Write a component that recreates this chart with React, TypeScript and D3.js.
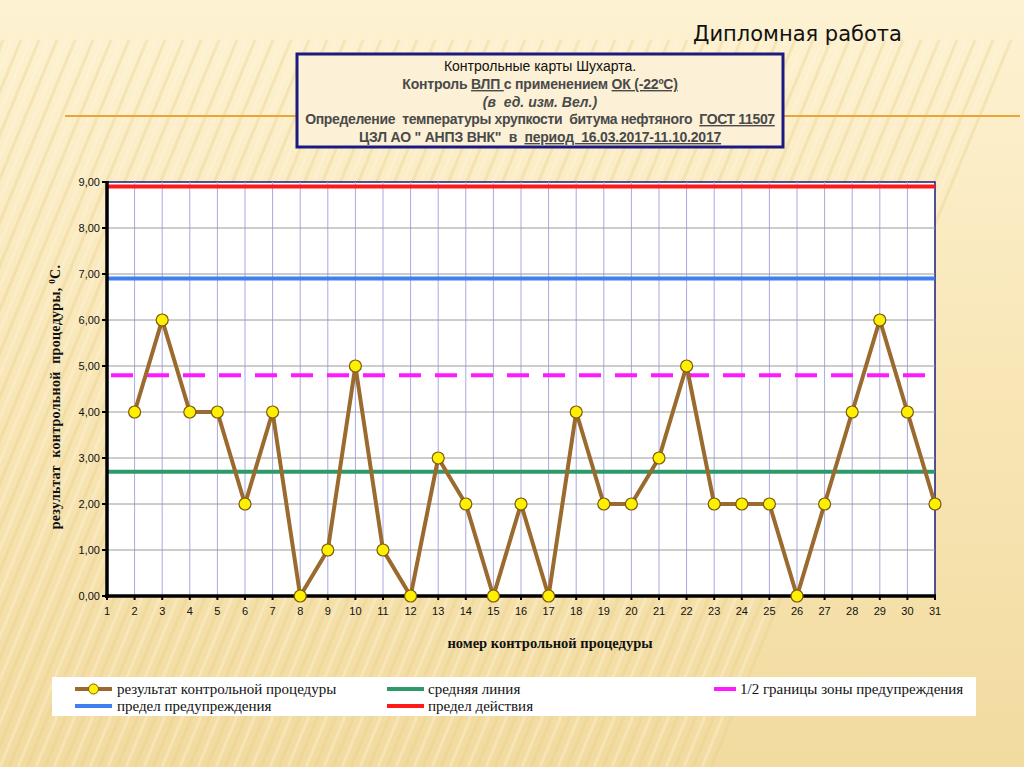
import * as d3 from "d3";

// control chart data (Shewhart)
const procedureNumbers = [
  1, 2, 3, 4, 5, 6, 7, 8, 9, 10, 11, 12, 13, 14, 15, 16, 17, 18, 19, 20, 21, 22, 23, 24, 25, 26,
  27, 28, 29, 30, 31,
];
const results: (number | null)[] = [
  null, 4, 6, 4, 4, 2, 4, 0, 1, 5, 1, 0, 3, 2, 0, 2, 0, 4, 2, 2, 3, 5, 2, 2, 2, 0, 2, 4, 6, 4, 2,
];
const yTicks = [0, 1, 2, 3, 4, 5, 6, 7, 8, 9];
const centerLine = 2.7;
const halfWarning = 4.8;
const warningLimit = 6.9;
const actionLimit = 8.9;

const W = 1024;
const H = 767;
const PLOT = { left: 107, right: 935, top: 182, bottom: 596 };

const BROWN = "#9a6a2e";
const GREEN = "#2e9a6a";
const MAGENTA = "#ff19ff";
const BLUE = "#3f7ff0";
const RED = "#ff1a1a";

export default function App() {
  const x = d3.scaleLinear().domain([1, 31]).range([PLOT.left, PLOT.right]);
  const y = d3.scaleLinear().domain([0, 9]).range([PLOT.bottom, PLOT.top]);
  const fmt = (v: number) => v.toFixed(2).replace(".", ",");

  const pts = procedureNumbers
    .map((n, i) => ({ n, v: results[i] }))
    .filter((d) => d.v !== null) as { n: number; v: number }[];

  const line = d3
    .line<{ n: number; v: number }>()
    .x((d) => x(d.n))
    .y((d) => y(d.v));

  const sans = "'Liberation Sans', Arial, sans-serif";
  const serif = "'Liberation Serif', 'Times New Roman', serif";

  const stripes = d3.range(-40, 80).map((i) => i * 9);

  const legendRows = [
    [
      { x: 75, color: BROWN, label: "результат контрольной процедуры", marker: true, tx: 117 },
      { x: 387, color: GREEN, label: "средняя линия", tx: 428 },
      { x: 714, color: MAGENTA, label: "1/2 границы зоны предупреждения", tx: 740, w: 22 },
    ],
    [
      { x: 75, color: BLUE, label: "предел предупреждения", tx: 117 },
      { x: 387, color: RED, label: "предел действия", tx: 428 },
    ],
  ];

  return (
    <div style={{ position: "fixed", left: 0, top: 0 }}>
      <svg width={W} height={H}>
        <defs>
          <linearGradient id="bg" x1="0" y1="0" x2="0" y2="1">
            <stop offset="0" stopColor="#fdf2d2" />
            <stop offset="0.5" stopColor="#f8e6b6" />
            <stop offset="1" stopColor="#f2dba0" />
          </linearGradient>
          <clipPath id="clipbg">
            <rect x={0} y={0} width={W} height={H} />
          </clipPath>
        </defs>
        <rect width={W} height={H} fill="url(#bg)" />
        <g clipPath="url(#clipbg)" opacity={0.35}>
          {stripes.map((s, i) => (
            <line
              key={i}
              x1={s}
              y1={H}
              x2={s + 300}
              y2={40}
              stroke={i % 2 ? "#e9cf8c" : "#fff6dc"}
              strokeWidth={3}
            />
          ))}
        </g>

        {/* slide header */}
        <text x={693} y={41} fontFamily="'DejaVu Sans', sans-serif" fontSize={21} fill="#111">
          Дипломная работа
        </text>
        <line x1={65} x2={1020} y1={116} y2={116} stroke="#e8a53a" strokeWidth={2} />

        {/* title box */}
        <rect x={297} y={54} width={486} height={93} fill="#fcf1d6" stroke="#1a1a80" strokeWidth={3} />
        <g fontFamily={sans} textAnchor="middle" fontSize={14}>
          <text x={540} y={71} fill="#111">
            Контрольные карты Шухарта.
          </text>
          <text x={540} y={89} fill="#4a4a4a" fontWeight="bold" letterSpacing={-0.2} xmlSpace="preserve">
            {"Контроль "}
            <tspan textDecoration="underline">{"ВЛП "}</tspan>
            {"с применением "}
            <tspan textDecoration="underline">ОК (-22ºС)</tspan>
          </text>
          <text x={540} y={107} fill="#4a4a4a" fontWeight="bold" fontStyle="italic" xmlSpace="preserve">
            {"(в  ед. изм. Вел.)"}
          </text>
          <text x={540} y={124} fill="#4a4a4a" fontWeight="bold" letterSpacing={-0.35} xmlSpace="preserve">
            {"Определение  температуры хрупкости  битума нефтяного  "}
            <tspan textDecoration="underline">ГОСТ 11507</tspan>
          </text>
          <text x={540} y={142} fill="#4a4a4a" fontWeight="bold" letterSpacing={-0.2} xmlSpace="preserve">
            {'ЦЗЛ АО " АНПЗ ВНК"  в  '}
            <tspan textDecoration="underline">{"период  16.03.2017-11.10.2017"}</tspan>
          </text>
        </g>

        {/* plot area */}
        <rect
          x={PLOT.left}
          y={PLOT.top}
          width={PLOT.right - PLOT.left}
          height={PLOT.bottom - PLOT.top}
          fill="#fff"
          stroke="#1a1a80"
          strokeWidth={1.5}
        />
        {procedureNumbers.slice(1, -1).map((n) => (
          <line key={n} x1={x(n)} x2={x(n)} y1={PLOT.top} y2={PLOT.bottom} stroke="#a8a8e0" strokeWidth={1} />
        ))}
        {yTicks.slice(1, -1).map((v) => (
          <line key={v} x1={PLOT.left} x2={PLOT.right} y1={y(v)} y2={y(v)} stroke="#9a9a9a" strokeWidth={1} />
        ))}

        {/* control lines */}
        <line x1={PLOT.left} x2={PLOT.right} y1={y(actionLimit)} y2={y(actionLimit)} stroke={RED} strokeWidth={4} />
        <line x1={PLOT.left} x2={PLOT.right} y1={y(warningLimit)} y2={y(warningLimit)} stroke={BLUE} strokeWidth={4} />
        <line
          x1={PLOT.left}
          x2={PLOT.right}
          y1={y(halfWarning)}
          y2={y(halfWarning)}
          stroke={MAGENTA}
          strokeWidth={4}
          strokeDasharray="22 14"
          strokeDashoffset={-4}
        />
        <line x1={PLOT.left} x2={PLOT.right} y1={y(centerLine)} y2={y(centerLine)} stroke={GREEN} strokeWidth={4} />

        {/* axes */}
        <line x1={PLOT.left} x2={PLOT.left} y1={PLOT.top - 1} y2={PLOT.bottom + 2} stroke="#000" strokeWidth={3.5} />
        <line x1={PLOT.left - 2} x2={PLOT.right + 1} y1={PLOT.bottom} y2={PLOT.bottom} stroke="#000" strokeWidth={3.5} />
        <g fontFamily={sans} fontSize={11} fill="#111">
          {yTicks.map((v) => (
            <g key={v}>
              <line x1={PLOT.left - 5} x2={PLOT.left} y1={y(v)} y2={y(v)} stroke="#000" strokeWidth={2} />
              <text x={PLOT.left - 7} y={y(v)} dy="0.35em" textAnchor="end">
                {fmt(v)}
              </text>
            </g>
          ))}
          {procedureNumbers.map((n) => (
            <g key={n}>
              <line x1={x(n)} x2={x(n)} y1={PLOT.bottom} y2={PLOT.bottom + 4} stroke="#000" strokeWidth={2} />
              <text x={x(n)} y={PLOT.bottom + 19} textAnchor="middle">
                {n}
              </text>
            </g>
          ))}
        </g>

        {/* data series */}
        <path d={line(pts) ?? ""} fill="none" stroke={BROWN} strokeWidth={4} strokeLinejoin="miter" />
        {pts.map((d) => (
          <circle key={d.n} cx={x(d.n)} cy={y(d.v)} r={6} fill="#ffef00" stroke="#7a5a10" strokeWidth={1.2} />
        ))}

        {/* axis titles */}
        <text
          transform={`translate(60, ${(PLOT.top + PLOT.bottom) / 2 + 8}) rotate(-90)`}
          textAnchor="middle"
          fontFamily={serif}
          fontWeight="bold"
          fontSize={14}
          letterSpacing={0.3}
          fill="#111"
          xmlSpace="preserve"
        >
          {"результат  контрольной  процедуры, "}
          <tspan dy={-5} fontSize={9}>0</tspan>
          <tspan dy={5}>С.</tspan>
        </text>
        <text x={550} y={648} textAnchor="middle" fontFamily={serif} fontWeight="bold" fontSize={14.5} fill="#111">
          номер контрольной процедуры
        </text>

        {/* legend */}
        <rect x={52} y={677} width={924} height={39} fill="#fff" />
        <g fontFamily={serif} fontSize={15} fill="#111">
          {legendRows.map((row, ri) =>
            row.map((item) => {
              const yy = 689 + ri * 17;
              const w = item.w ?? 37;
              return (
                <g key={item.label}>
                  <line x1={item.x} x2={item.x + w} y1={yy} y2={yy} stroke={item.color} strokeWidth={4} />
                  {item.marker && (
                    <circle cx={item.x + w / 2} cy={yy} r={5} fill="#ffef00" stroke="#7a5a10" strokeWidth={1} />
                  )}
                  <text x={item.tx} y={yy} dy="0.35em">
                    {item.label}
                  </text>
                </g>
              );
            })
          )}
        </g>
      </svg>
    </div>
  );
}
